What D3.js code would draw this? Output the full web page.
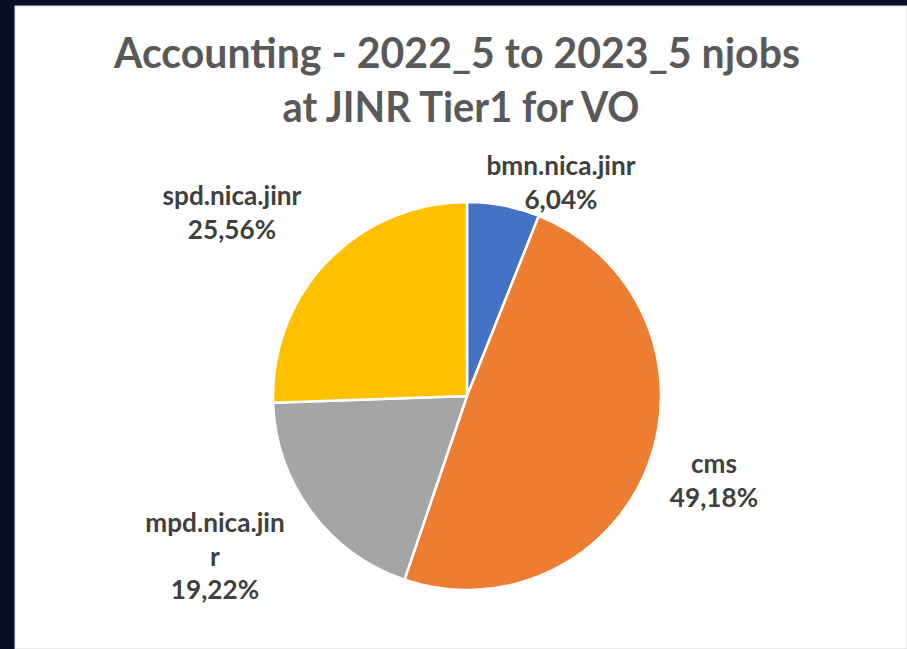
<!DOCTYPE html>
<html>
<head>
<meta charset="utf-8">
<script src="https://cdn.jsdelivr.net/npm/d3@7"></script>
<style>
  html, body { margin: 0; padding: 0; background: #031027; }
  svg { display: block; }
</style>
</head>
<body>
<div id="chart"></div>
<script>
"use strict";

// Values (share of njobs, %).
const categories = ["bmn.nica.jinr", "cms", "mpd.nica.jinr", "spd.nica.jinr"];
const shares = [6.04, 49.18, 19.22, 25.56];
// How the labels are broken into lines in the picture.
const labelLines = [["bmn.nica.jinr"], ["cms"], ["mpd.nica.jin", "r"], ["spd.nica.jinr"]];
const titleLines = ["Accounting - 2022_5 to 2023_5 njobs", "at JINR Tier1 for VO"];

const colours = ["#4472C4", "#ED7D31", "#A5A5A5", "#FFC000"];

const width = 907;
const height = 649;
const cx = 467;
const cy = 396;
const radius = 194;

// Where each label block is centred, relative to the pie centre.
const labelOffsets = [[94, -214], [247, 84], [-252, 160], [-235, -184]];
const lineStep = 33.5;
const fontStack = "Lato, 'Open Sans', 'Noto Sans', sans-serif";

let svg = d3.select("#chart")
  .append("svg")
  .attr("width", width)
  .attr("height", height);

// White chart area inside the dark frame.
svg.append("rect")
  .attr("x", 15)
  .attr("y", 6)
  .attr("width", width - 15)
  .attr("height", height - 6)
  .attr("fill", "#ffffff")
  .attr("stroke", "#d9d9d9")
  .attr("stroke-width", 1);

// Title, squeezed to the width of the original lines.
const titleSpecs = [{ x: 457, y: 68, len: 686 }, { x: 461, y: 122, len: 357 }];
titleLines.forEach((line, i) => {
  svg.append("text")
    .attr("x", titleSpecs[i].x)
    .attr("y", titleSpecs[i].y)
    .attr("text-anchor", "middle")
    .attr("textLength", titleSpecs[i].len)
    .attr("lengthAdjust", "spacingAndGlyphs")
    .style("font-family", fontStack)
    .style("font-weight", "700")
    .style("font-size", "42px")
    .style("fill", "#595959")
    .text(line);
});

let pie = d3.pie()
  .sort(null)
  .value(d => d);

let arc = d3.arc()
  .innerRadius(0)
  .outerRadius(radius);

let arcs = pie(shares);

let pieGroup = svg.append("g")
  .attr("transform", `translate(${cx},${cy})`);

pieGroup.selectAll("path")
  .data(arcs)
  .enter()
  .append("path")
  .attr("d", arc)
  .style("fill", (d, i) => colours[i])
  .style("stroke", "#ffffff")
  .style("stroke-width", 2.5)
  .style("stroke-linejoin", "round");

// Data labels: name lines then the percentage with a decimal comma.
const fmt = v => v.toFixed(2).replace(".", ",") + "%";
const squeeze = 0.97;

arcs.forEach((d, i) => {
  let lines = labelLines[i].concat([fmt(shares[i])]);
  let top = cy + labelOffsets[i][1] - ((lines.length - 1) * lineStep) / 2;
  let x = cx + labelOffsets[i][0];
  let g = svg.append("g")
    .attr("transform", `translate(${x},0) scale(${squeeze},1)`);
  lines.forEach((line, j) => {
    g.append("text")
      .attr("x", 0)
      .attr("y", top + j * lineStep + 10)
      .attr("text-anchor", "middle")
      .style("font-family", fontStack)
      .style("font-weight", "700")
      .style("font-size", "27px")
      .style("fill", "#404040")
      .text(line);
  });
});
</script>
</body>
</html>
